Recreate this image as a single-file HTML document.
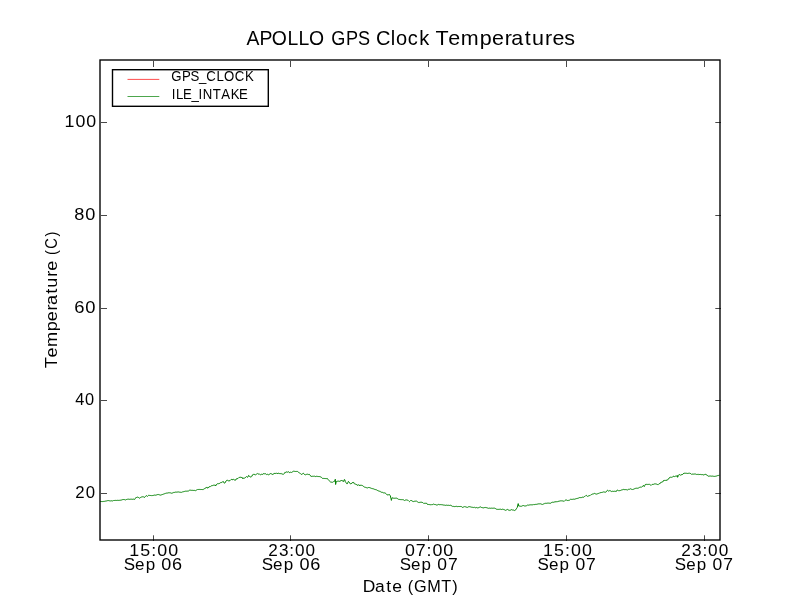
<!DOCTYPE html>
<html><head><meta charset="utf-8"><title>APOLLO GPS Clock Temperatures</title>
<style>
html,body{margin:0;padding:0;background:#fff;}
body{width:800px;height:600px;overflow:hidden;font-family:"Liberation Sans",sans-serif;}
svg{display:block;will-change:transform;}
text{font-family:"Liberation Sans",sans-serif;fill:#000;}
</style></head>
<body>
<svg width="800" height="600" viewBox="0 0 800 600">
<rect x="0" y="0" width="800" height="600" fill="#fff"/>
<path d="M100.00 501.50 L100.60 501.48 L100.80 501.50 L101.20 501.56 L101.80 501.53 L102.40 501.55 L103.00 501.60 L103.60 501.41 L104.20 501.34 L104.80 501.33 L105.40 501.15 L106.00 501.00 L106.60 500.93 L107.20 500.72 L107.80 500.58 L108.00 500.50 L108.40 500.58 L109.00 500.53 L109.60 500.82 L110.20 500.89 L110.50 500.90 L110.80 500.96 L111.40 500.81 L112.00 500.84 L112.40 501.00 L112.60 500.85 L113.20 500.63 L113.60 500.50 L113.80 500.52 L114.40 500.47 L115.00 500.49 L115.60 500.38 L116.20 500.44 L116.80 500.42 L117.40 500.32 L118.00 500.49 L118.60 500.38 L119.20 500.41 L119.80 500.24 L120.40 500.21 L121.00 500.25 L121.60 499.97 L122.20 499.73 L122.80 499.54 L123.00 499.40 L123.40 499.50 L124.00 499.56 L124.60 499.64 L125.20 499.80 L125.50 499.90 L125.80 499.90 L126.40 499.53 L127.00 499.41 L127.40 499.25 L127.60 499.28 L128.20 499.13 L128.80 499.25 L129.40 499.35 L130.00 499.09 L130.60 499.22 L131.20 499.24 L131.80 499.18 L132.40 499.29 L133.00 499.25 L133.60 499.13 L134.20 499.32 L134.80 499.30 L134.90 499.25 L135.40 498.41 L135.80 497.60 L136.00 497.67 L136.60 497.45 L137.20 497.29 L137.80 497.04 L138.00 497.10 L138.40 497.42 L139.00 497.74 L139.60 498.20 L140.20 497.78 L140.80 497.34 L141.10 497.25 L141.40 497.05 L142.00 496.85 L142.60 496.76 L143.00 496.50 L143.20 496.51 L143.80 497.09 L144.25 497.60 L144.40 497.47 L145.00 496.95 L145.60 496.26 L146.10 495.70 L146.20 495.60 L146.80 495.85 L147.40 496.38 L147.50 496.40 L148.00 495.86 L148.60 495.25 L148.75 495.20 L149.20 495.35 L149.80 495.46 L150.40 495.48 L151.00 495.58 L151.25 495.60 L151.60 495.59 L152.20 495.61 L152.80 495.46 L153.40 495.38 L154.00 495.31 L154.60 495.07 L155.20 495.23 L155.80 495.13 L156.25 495.00 L156.40 495.00 L157.00 494.64 L157.60 494.58 L158.10 494.50 L158.20 494.59 L158.80 494.52 L159.40 494.80 L160.00 495.04 L160.60 495.10 L161.20 494.79 L161.80 494.82 L162.40 494.53 L163.00 494.27 L163.10 494.25 L163.60 494.09 L164.20 493.88 L164.80 493.61 L165.40 493.47 L165.60 493.30 L166.00 493.18 L166.60 493.11 L167.20 493.13 L167.80 492.95 L168.40 492.79 L169.00 492.84 L169.40 492.70 L169.60 492.87 L170.20 492.86 L170.80 492.93 L171.40 493.17 L171.90 493.30 L172.00 493.24 L172.60 492.94 L173.20 492.78 L173.75 492.40 L173.80 492.31 L174.40 492.43 L175.00 492.15 L175.60 492.12 L176.20 492.17 L176.80 492.14 L177.40 492.05 L178.00 491.94 L178.10 491.90 L178.60 491.99 L179.20 492.09 L179.80 492.22 L180.40 492.25 L181.00 492.38 L181.25 492.40 L181.60 492.31 L182.20 492.02 L182.50 491.90 L182.80 491.88 L183.40 491.71 L184.00 491.67 L184.60 491.38 L185.00 491.25 L185.20 491.21 L185.80 491.18 L186.40 491.18 L187.00 491.23 L187.60 491.10 L188.10 491.10 L188.20 491.07 L188.80 490.82 L189.40 490.30 L190.00 490.09 L190.60 490.21 L191.20 490.32 L191.80 490.33 L192.00 490.30 L192.40 490.34 L193.00 490.32 L193.60 490.44 L194.20 490.44 L194.80 490.41 L195.40 490.68 L195.75 490.50 L196.00 490.39 L196.60 490.00 L197.20 489.71 L197.60 489.50 L197.80 489.48 L198.40 489.49 L199.00 489.28 L199.60 489.46 L200.20 489.58 L200.80 489.41 L201.40 489.49 L202.00 489.58 L202.60 489.57 L203.20 489.62 L203.25 489.50 L203.80 489.00 L204.40 488.71 L205.00 488.31 L205.60 488.09 L206.20 487.81 L206.40 487.40 L206.80 486.96 L207.40 488.26 L207.60 488.10 L208.00 487.47 L208.60 487.59 L209.20 486.64 L209.80 486.65 L210.10 486.40 L210.40 486.56 L211.00 485.94 L211.60 485.74 L212.00 485.50 L212.20 485.66 L212.80 485.38 L213.40 485.20 L214.00 485.48 L214.50 485.00 L214.60 485.28 L215.20 485.07 L215.80 485.95 L216.00 485.30 L216.40 484.54 L217.00 484.34 L217.30 483.75 L217.60 483.64 L218.20 483.64 L218.80 483.69 L219.40 483.47 L219.50 483.40 L220.00 483.35 L220.60 482.56 L221.20 482.31 L221.40 482.60 L221.80 482.54 L222.40 481.82 L223.00 481.48 L223.25 481.60 L223.60 481.69 L224.20 483.17 L224.50 483.25 L224.80 483.03 L225.40 482.41 L226.00 481.00 L226.60 480.43 L226.70 480.30 L227.20 480.07 L227.80 480.61 L228.40 480.88 L229.00 480.32 L229.50 480.60 L229.60 480.93 L230.20 480.44 L230.80 479.80 L231.40 479.50 L232.00 479.01 L232.60 479.85 L233.20 479.48 L233.80 479.35 L233.90 479.50 L234.40 479.93 L235.00 480.34 L235.10 480.30 L235.60 480.17 L236.20 478.94 L236.80 478.88 L237.00 478.40 L237.40 478.62 L238.00 478.38 L238.60 477.75 L239.20 477.38 L239.80 477.59 L239.90 477.30 L240.40 477.27 L241.00 477.21 L241.60 477.47 L241.75 477.10 L242.20 477.74 L242.70 478.60 L242.80 477.99 L243.40 478.28 L244.00 477.72 L244.60 478.20 L244.90 477.90 L245.20 477.74 L245.80 477.02 L246.40 476.68 L246.75 476.40 L247.00 476.84 L247.60 477.22 L247.70 477.30 L248.20 476.58 L248.60 475.40 L248.80 475.55 L249.40 476.34 L249.90 476.50 L250.00 476.89 L250.60 477.00 L251.20 476.51 L251.40 476.70 L251.80 476.44 L252.40 475.02 L253.00 474.49 L253.30 474.40 L253.60 473.96 L254.20 474.83 L254.80 474.36 L255.40 474.78 L255.50 474.80 L256.00 474.44 L256.60 474.10 L257.20 473.58 L257.40 473.60 L257.80 473.69 L258.40 474.13 L259.00 473.74 L259.25 473.75 L259.60 474.18 L260.20 474.80 L260.50 474.80 L260.80 474.69 L261.40 474.30 L262.00 474.35 L262.40 474.40 L262.60 474.59 L263.20 473.67 L263.80 473.69 L264.40 473.85 L264.90 473.40 L265.00 473.66 L265.60 473.82 L266.20 474.37 L266.75 474.50 L266.80 474.55 L267.40 474.31 L268.00 474.31 L268.60 474.80 L269.20 474.26 L269.80 474.27 L270.40 473.52 L270.50 473.60 L271.00 473.60 L271.60 473.91 L272.20 473.99 L272.70 474.60 L272.80 474.52 L273.40 473.92 L274.00 473.98 L274.60 472.97 L274.90 473.40 L275.20 473.50 L275.80 473.30 L276.40 473.01 L277.00 473.72 L277.60 473.51 L278.00 473.60 L278.20 473.03 L278.80 473.33 L279.40 473.58 L280.00 473.36 L280.60 473.63 L281.10 473.40 L281.20 473.63 L281.80 473.88 L282.40 474.07 L283.00 474.60 L283.30 474.40 L283.60 474.28 L284.20 473.65 L284.80 472.45 L285.40 472.62 L285.50 472.30 L286.00 472.48 L286.60 471.91 L286.90 471.90 L287.20 471.81 L287.80 472.46 L288.40 471.58 L289.00 472.19 L289.60 472.72 L290.20 472.07 L290.80 472.28 L291.40 472.45 L291.90 472.30 L292.00 472.20 L292.60 471.74 L293.10 471.25 L293.20 471.35 L293.80 471.20 L294.40 471.31 L295.00 471.39 L295.60 471.47 L296.20 471.42 L296.80 471.44 L297.40 471.39 L297.50 471.50 L298.00 471.83 L298.60 472.40 L299.20 472.76 L299.40 472.90 L299.80 473.09 L300.40 473.50 L301.00 474.26 L301.60 474.40 L302.20 474.05 L302.80 473.54 L303.10 473.25 L303.40 473.24 L304.00 474.05 L304.60 474.52 L305.00 474.80 L305.20 474.90 L305.80 474.59 L306.25 474.40 L306.40 474.39 L307.00 474.45 L307.60 474.21 L308.20 474.50 L308.80 474.43 L309.40 474.40 L310.00 475.01 L310.60 475.89 L311.20 476.62 L311.25 476.50 L311.80 476.29 L312.40 476.28 L313.00 476.29 L313.10 476.25 L313.60 476.29 L314.20 476.25 L314.80 476.21 L315.40 476.55 L316.00 476.46 L316.60 476.26 L317.20 476.26 L317.80 476.59 L318.40 476.54 L319.00 476.65 L319.60 476.57 L320.00 476.50 L320.20 476.56 L320.80 477.13 L321.40 477.35 L322.00 477.95 L322.50 478.40 L322.60 478.40 L323.20 478.48 L323.80 478.38 L324.40 478.46 L325.00 478.55 L325.60 478.56 L326.20 478.61 L326.80 478.59 L327.40 478.56 L327.50 478.60 L328.00 479.40 L328.60 480.19 L328.75 480.40 L329.20 480.71 L329.80 481.25 L330.40 481.83 L330.60 482.00 L331.00 482.03 L331.60 482.20 L332.20 482.25 L332.50 482.30 L332.80 482.21 L333.40 481.83 L334.00 481.21 L334.40 481.40 L334.60 481.04 L335.20 479.76 L335.30 479.20 L335.60 484.50 L335.80 483.71 L336.25 481.50 L336.40 481.44 L337.00 481.61 L337.60 481.17 L338.20 480.87 L338.80 481.44 L339.40 481.40 L340.00 480.86 L340.60 481.10 L341.20 480.30 L341.25 480.60 L341.80 479.99 L342.40 480.66 L343.00 481.63 L343.60 481.24 L343.75 481.40 L344.20 479.79 L344.50 479.40 L344.80 479.92 L345.30 481.40 L345.40 481.71 L346.00 482.64 L346.60 483.48 L346.90 483.90 L347.20 483.85 L347.80 482.61 L348.40 481.40 L349.00 482.09 L349.60 482.97 L350.00 483.25 L350.20 483.80 L350.80 483.77 L351.25 483.60 L351.40 483.80 L352.00 482.72 L352.60 482.55 L353.20 482.37 L353.40 482.00 L353.80 482.74 L354.00 483.25 L354.40 483.81 L355.00 484.02 L355.60 484.20 L356.20 484.61 L356.80 484.42 L357.40 485.39 L358.00 485.14 L358.60 484.85 L359.20 485.08 L359.40 485.10 L359.80 485.90 L360.40 485.13 L361.00 485.28 L361.60 485.33 L361.90 485.25 L362.20 485.46 L362.80 485.76 L363.40 486.32 L364.00 486.76 L364.40 487.00 L364.60 487.17 L365.20 487.31 L365.80 487.41 L366.40 487.67 L367.00 487.81 L367.50 487.90 L367.60 487.88 L368.20 487.63 L368.80 487.36 L369.00 487.30 L369.40 487.56 L370.00 487.68 L370.60 488.02 L371.20 488.38 L371.25 488.40 L371.80 488.39 L372.40 488.63 L373.00 488.62 L373.60 488.90 L373.75 489.00 L374.20 489.21 L374.80 489.42 L375.40 489.57 L376.00 489.76 L376.60 489.85 L376.90 490.10 L377.20 490.42 L377.80 490.56 L378.40 490.89 L379.00 490.96 L379.60 491.30 L380.00 491.50 L380.20 491.41 L380.80 491.94 L381.40 492.22 L382.00 492.40 L382.60 492.37 L383.20 492.71 L383.80 492.94 L384.40 492.86 L385.00 493.02 L385.60 493.25 L385.75 493.40 L386.20 493.91 L386.80 494.60 L387.00 495.00 L387.40 494.92 L388.00 494.82 L388.60 494.74 L389.20 494.63 L389.50 494.50 L389.80 495.12 L390.40 495.90 L391.00 498.72 L391.40 500.40 L391.60 499.40 L392.00 497.80 L392.20 497.82 L392.80 497.98 L393.25 498.25 L393.40 498.14 L394.00 498.24 L394.60 498.25 L395.20 498.30 L395.80 498.09 L396.40 498.13 L397.00 498.25 L397.60 498.68 L398.20 499.09 L398.60 499.40 L398.80 499.38 L399.40 499.45 L400.00 499.43 L400.60 499.62 L401.20 499.63 L401.80 499.63 L402.40 499.62 L402.60 499.70 L403.00 499.85 L403.60 499.85 L404.20 500.28 L404.50 500.50 L404.80 500.41 L405.40 500.07 L406.00 500.05 L406.40 499.90 L406.60 499.98 L407.20 500.02 L407.80 500.33 L408.25 500.50 L408.40 500.60 L409.00 501.21 L409.50 501.60 L409.60 501.57 L410.20 500.99 L410.80 500.39 L411.00 500.30 L411.40 500.52 L412.00 500.87 L412.60 501.30 L413.20 501.60 L413.25 501.60 L413.80 501.44 L414.40 501.28 L415.00 501.28 L415.60 501.15 L416.20 501.02 L416.40 501.10 L416.80 501.37 L417.40 501.75 L418.00 502.23 L418.25 502.40 L418.60 502.43 L419.20 502.31 L419.80 502.55 L420.40 502.25 L421.00 502.36 L421.60 502.23 L422.00 502.20 L422.20 502.46 L422.80 502.56 L423.40 503.17 L423.60 503.40 L424.00 503.37 L424.60 503.32 L425.20 503.41 L425.80 503.13 L426.40 503.14 L426.50 503.00 L427.00 503.85 L427.40 504.40 L427.60 504.51 L428.20 504.51 L428.80 504.49 L429.40 504.60 L430.00 504.48 L430.60 504.75 L431.20 504.58 L431.50 504.70 L431.80 504.63 L432.40 504.63 L433.00 504.20 L433.40 504.10 L433.60 504.16 L434.20 504.43 L434.80 504.48 L435.40 504.56 L436.00 504.83 L436.60 505.02 L437.10 505.10 L437.20 505.12 L437.80 504.65 L438.40 504.40 L439.00 504.63 L439.60 504.68 L440.20 504.58 L440.80 504.66 L441.40 504.65 L441.50 504.70 L442.00 504.92 L442.60 504.81 L443.20 505.04 L443.80 505.02 L444.40 505.10 L444.60 505.20 L445.00 505.28 L445.60 505.35 L446.20 505.22 L446.80 505.17 L447.40 505.33 L448.00 505.25 L448.60 505.29 L449.20 505.43 L449.80 505.40 L450.40 505.24 L450.90 505.30 L451.00 505.60 L451.60 505.81 L452.20 506.33 L452.40 506.40 L452.80 506.34 L453.40 506.42 L454.00 506.26 L454.60 506.63 L455.20 506.60 L455.80 506.35 L456.40 506.34 L457.00 506.34 L457.60 506.63 L458.20 506.48 L458.80 506.53 L459.40 506.52 L460.00 506.55 L460.60 506.47 L461.20 506.60 L461.50 506.60 L461.80 506.72 L462.40 507.40 L463.00 507.17 L463.60 506.99 L464.20 506.79 L464.60 506.60 L464.80 506.64 L465.40 506.77 L466.00 507.06 L466.60 507.19 L467.10 507.40 L467.20 507.51 L467.80 507.18 L468.40 506.84 L469.00 506.60 L469.60 506.70 L470.20 506.82 L470.80 506.94 L471.40 507.14 L471.50 507.20 L472.00 507.26 L472.60 507.32 L473.20 507.36 L473.80 507.55 L474.40 507.31 L474.75 507.40 L475.00 507.44 L475.60 507.81 L476.20 507.44 L476.80 507.67 L477.40 507.84 L477.90 507.90 L478.00 507.88 L478.60 507.66 L479.20 507.36 L479.80 507.18 L480.40 506.90 L481.00 507.17 L481.60 507.51 L482.20 507.50 L482.80 507.87 L482.90 508.00 L483.40 507.90 L484.00 507.68 L484.60 507.57 L485.20 507.62 L485.80 507.37 L486.00 507.40 L486.40 507.61 L487.00 507.83 L487.60 508.01 L488.20 508.24 L488.50 508.30 L488.80 508.28 L489.40 508.13 L490.00 508.25 L490.60 508.28 L491.20 508.16 L491.80 508.18 L492.40 508.25 L493.00 508.07 L493.60 508.20 L494.20 508.30 L494.75 508.10 L494.80 508.08 L495.40 508.52 L496.00 508.86 L496.60 509.25 L497.20 509.42 L497.80 509.31 L498.40 509.38 L499.00 509.23 L499.60 509.31 L500.20 509.32 L500.80 509.16 L501.40 509.49 L502.00 509.45 L502.60 509.20 L503.20 509.46 L503.80 509.38 L504.10 509.40 L504.40 509.68 L505.00 510.13 L505.40 510.40 L505.60 510.14 L506.20 509.95 L506.80 509.79 L507.25 509.40 L507.40 509.43 L508.00 509.74 L508.60 510.07 L509.10 510.50 L509.20 510.34 L509.80 510.28 L510.40 510.20 L511.00 509.86 L511.60 509.60 L512.20 509.80 L512.80 510.17 L513.40 510.06 L514.00 510.22 L514.60 510.51 L514.75 510.50 L515.20 510.23 L515.80 509.64 L516.00 509.60 L516.40 508.78 L517.00 507.87 L517.25 507.40 L517.60 506.02 L518.20 503.60 L518.80 506.10 L519.40 506.05 L520.00 506.24 L520.60 506.28 L521.10 506.40 L521.20 506.40 L521.80 506.06 L522.40 505.78 L523.00 505.50 L523.60 505.58 L524.20 505.84 L524.80 505.99 L525.40 505.93 L526.00 506.17 L526.10 506.10 L526.60 505.64 L527.20 505.26 L527.40 505.10 L527.80 505.15 L528.40 505.19 L529.00 504.96 L529.60 504.95 L530.20 504.94 L530.80 504.73 L531.40 504.84 L532.00 504.74 L532.60 504.80 L533.20 504.61 L533.60 504.70 L533.80 504.47 L534.40 504.59 L535.00 504.53 L535.60 504.37 L536.20 504.43 L536.80 504.23 L537.40 504.12 L538.00 504.14 L538.60 503.85 L539.20 503.86 L539.80 503.84 L540.40 503.85 L540.50 503.75 L541.00 503.93 L541.60 504.22 L542.20 504.36 L542.40 504.50 L542.80 504.29 L543.40 504.07 L544.00 503.48 L544.25 503.40 L544.60 503.62 L545.20 503.29 L545.80 503.33 L546.40 503.31 L547.00 503.37 L547.60 503.12 L548.20 503.00 L548.80 503.24 L549.40 503.23 L550.00 503.19 L550.50 503.10 L550.60 503.31 L551.20 502.73 L551.80 502.39 L552.10 502.20 L552.40 502.28 L553.00 502.18 L553.60 502.28 L554.20 501.95 L554.80 502.00 L555.40 501.66 L555.50 502.00 L556.00 501.96 L556.60 501.70 L557.20 501.68 L557.80 501.66 L558.00 501.40 L558.40 501.33 L559.00 501.20 L559.60 501.07 L560.20 500.92 L560.80 500.84 L561.40 500.89 L561.75 500.75 L562.00 500.80 L562.60 500.93 L563.20 501.02 L563.80 501.27 L564.25 501.25 L564.40 501.16 L565.00 500.48 L565.50 500.00 L565.60 500.10 L566.20 500.09 L566.80 500.06 L567.40 500.47 L568.00 500.44 L568.60 500.36 L568.75 500.50 L569.20 500.36 L569.80 499.92 L570.40 499.33 L570.60 499.40 L571.00 499.57 L571.60 499.37 L572.20 499.40 L572.80 499.27 L573.40 499.19 L574.00 498.98 L574.60 499.24 L575.00 499.10 L575.20 499.02 L575.80 498.75 L576.25 498.60 L576.40 498.61 L577.00 498.44 L577.60 498.37 L578.20 498.11 L578.80 498.01 L579.40 497.62 L580.00 497.69 L580.60 497.60 L581.20 497.57 L581.80 497.53 L582.40 497.21 L583.00 497.13 L583.60 497.22 L583.75 497.00 L584.20 496.65 L584.80 496.37 L585.40 496.08 L586.00 495.47 L586.25 495.30 L586.60 495.76 L587.20 496.05 L587.50 496.40 L587.80 496.29 L588.40 495.98 L589.00 495.73 L589.60 495.58 L590.20 495.46 L590.80 494.82 L591.25 494.70 L591.40 494.57 L592.00 494.45 L592.60 494.02 L593.20 493.95 L593.80 493.72 L594.40 493.40 L595.00 493.57 L595.60 493.87 L596.20 493.83 L596.80 494.31 L596.90 494.25 L597.40 493.83 L598.00 493.65 L598.60 493.39 L599.20 493.13 L599.80 493.00 L600.00 492.80 L600.40 492.71 L601.00 492.51 L601.60 492.48 L602.20 492.46 L602.80 492.13 L603.40 492.03 L603.75 491.90 L604.00 492.09 L604.60 492.07 L605.20 491.98 L605.60 492.20 L605.80 492.30 L606.40 491.67 L607.00 490.56 L607.50 490.30 L607.60 490.36 L608.20 490.80 L608.75 491.10 L608.80 491.18 L609.40 490.77 L609.70 490.50 L610.00 490.64 L610.60 490.90 L611.20 491.38 L611.25 491.40 L611.80 491.52 L612.40 491.27 L613.00 491.28 L613.60 491.40 L614.20 491.17 L614.80 491.37 L615.40 491.35 L616.00 491.45 L616.40 491.40 L616.60 491.00 L617.20 490.05 L617.30 490.00 L617.80 490.23 L618.40 490.61 L618.90 490.90 L619.00 490.78 L619.60 490.65 L620.20 490.52 L620.80 490.36 L621.40 490.00 L622.00 490.11 L622.60 489.71 L623.20 489.66 L623.80 489.31 L624.40 489.74 L624.50 489.50 L625.00 489.48 L625.60 489.64 L626.20 489.78 L626.80 489.63 L627.40 489.93 L627.60 489.90 L628.00 489.74 L628.60 489.28 L629.20 489.30 L629.80 489.16 L630.10 488.90 L630.40 488.75 L631.00 489.21 L631.60 489.29 L632.20 489.46 L632.60 489.50 L632.80 489.46 L633.40 489.30 L634.00 488.86 L634.60 488.72 L635.10 488.40 L635.20 488.34 L635.80 488.45 L636.40 488.22 L637.00 488.27 L637.60 488.25 L638.20 488.19 L638.80 487.77 L639.40 487.43 L639.50 487.40 L640.00 487.21 L640.60 487.13 L641.20 487.26 L641.40 487.20 L641.80 487.04 L642.40 486.42 L643.00 485.92 L643.60 485.30 L644.20 486.60 L644.80 485.49 L645.40 484.40 L646.00 484.67 L646.60 484.32 L647.20 484.29 L647.80 484.58 L648.40 484.41 L649.00 484.34 L649.50 484.40 L649.60 484.34 L650.20 484.74 L650.80 485.26 L651.10 485.30 L651.40 485.19 L652.00 484.52 L652.60 484.40 L653.20 484.39 L653.80 484.25 L654.40 483.91 L655.00 484.17 L655.60 483.87 L655.75 483.90 L656.20 483.94 L656.80 484.31 L657.40 484.56 L658.00 484.30 L658.25 484.50 L658.60 484.32 L659.20 483.61 L659.80 483.79 L660.10 483.10 L660.40 482.82 L661.00 482.80 L661.60 482.07 L662.10 481.90 L662.20 482.00 L662.80 481.92 L663.40 480.61 L664.00 480.67 L664.60 480.40 L665.20 480.46 L665.80 480.31 L666.40 480.16 L667.00 480.69 L667.10 480.25 L667.60 479.75 L668.20 478.78 L668.40 478.90 L668.80 478.72 L669.40 477.69 L670.00 477.75 L670.25 477.30 L670.60 477.14 L671.20 477.21 L671.80 477.37 L672.40 477.07 L672.75 477.00 L673.00 476.60 L673.60 476.25 L674.00 476.40 L674.20 476.62 L674.80 476.50 L675.40 476.15 L676.00 476.45 L676.50 476.25 L676.60 476.23 L677.20 475.40 L677.60 477.30 L677.80 477.03 L678.40 475.25 L679.00 474.50 L679.60 474.66 L680.20 475.13 L680.60 475.10 L680.80 475.18 L681.40 475.02 L682.00 474.15 L682.60 474.48 L682.75 474.40 L683.20 473.95 L683.70 473.25 L683.80 473.76 L684.40 473.06 L685.00 473.18 L685.60 473.26 L686.20 473.43 L686.80 473.16 L687.40 473.48 L688.00 473.09 L688.60 473.30 L689.20 473.14 L689.60 473.25 L689.80 473.38 L690.40 473.51 L691.00 473.63 L691.50 474.20 L691.60 474.41 L692.20 474.22 L692.80 474.00 L693.40 474.12 L694.00 474.24 L694.60 474.00 L695.20 473.93 L695.80 474.23 L696.40 474.49 L696.50 474.40 L697.00 474.52 L697.60 474.36 L698.20 474.02 L698.80 474.70 L699.40 474.53 L700.00 474.48 L700.60 474.44 L700.90 474.50 L701.20 474.61 L701.80 474.59 L702.40 474.59 L703.00 474.76 L703.60 474.90 L704.00 475.10 L704.20 474.87 L704.80 474.42 L705.40 474.44 L705.60 474.20 L706.00 474.25 L706.60 475.12 L707.20 475.26 L707.75 475.90 L707.80 475.97 L708.40 476.23 L709.00 476.00 L709.60 476.09 L710.20 475.94 L710.80 476.14 L711.40 476.21 L712.00 475.88 L712.60 476.15 L713.20 476.34 L713.80 476.26 L714.40 476.40 L715.00 476.26 L715.60 476.24 L716.20 476.09 L716.80 475.96 L717.40 475.74 L717.50 475.60 L718.00 475.47 L718.60 475.43 L719.20 475.29 L719.50 475.30" fill="none" stroke="#008000" stroke-width="1.0" stroke-linejoin="round"/>
<rect x="100" y="60" width="620" height="480" fill="none" stroke="#000" stroke-width="1.37"/>
<path d="M153.5 541 V535.3 M153.5 61 V67 M290.5 541 V535.3 M290.5 61 V67 M428.5 541 V535.3 M428.5 61 V67 M566.5 541 V535.3 M566.5 61 V67 M704.5 541 V535.3 M704.5 61 V67 M101 122.5 H107 M721 122.5 H715.3 M101 215.5 H107 M721 215.5 H715.3 M101 308.5 H107 M721 308.5 H715.3 M101 400.5 H107 M721 400.5 H715.3 M101 493.5 H107 M721 493.5 H715.3" fill="none" stroke="#000" stroke-width="0.72"/>
<rect x="112.5" y="69.7" width="155.8" height="36.6" fill="#fff" stroke="#000" stroke-width="1.39"/>
<path d="M127.5 79.4 H159.3" stroke="#ff0000" stroke-width="0.7"/>
<path d="M127.5 96.5 H159.3" stroke="#008000" stroke-width="0.7"/>
<text transform="scale(0.9696,1)" x="254.16 267.57 280.20 296.49 307.79 318.75" y="44.8" font-size="20">APOLLO</text>
<text transform="scale(0.9048,1)" x="365.99 382.51 395.68" y="44.8" font-size="20">GPS</text>
<text transform="scale(1.0017,1)" x="375.31 390.00 395.40 407.12 418.60" y="44.8" font-size="20">Clock</text>
<text transform="scale(1.0749,1)" x="405.16 416.96 428.73 446.27 457.63 469.55 475.64 488.27 494.88 507.04 513.90 524.94" y="44.8" font-size="20">Temperatures</text>
<text transform="scale(1.0265,1)" x="125.91 136.67 147.38 153.17 163.91" y="556" font-size="17.4">15:00</text>
<text transform="scale(0.9843,1)" x="272.44 283.36 293.93 299.67 310.35" y="556" font-size="17.4">23:00</text>
<text transform="scale(1.0230,1)" x="395.99 406.50 417.02 422.66 433.20" y="556" font-size="17.4">07:00</text>
<text transform="scale(1.0265,1)" x="529.01 539.77 550.48 556.27 567.01" y="556" font-size="17.4">15:00</text>
<text transform="scale(0.9885,1)" x="689.11 700.03 710.60 716.34 727.02" y="556" font-size="17.4">23:00</text>
<text transform="scale(0.9773,1)" x="126.57 138.25 149.10" y="569.7" font-size="17.4">Sep</text>
<text transform="scale(1.0377,1)" x="155.49 165.82" y="569.7" font-size="17.4">06</text>
<text transform="scale(0.9790,1)" x="267.30 278.97 289.82" y="569.7" font-size="17.4">Sep</text>
<text transform="scale(1.0396,1)" x="288.02 298.35" y="569.7" font-size="17.4">06</text>
<text transform="scale(0.9744,1)" x="410.16 421.83 432.68" y="569.7" font-size="17.4">Sep</text>
<text transform="scale(1.0064,1)" x="434.57 445.15" y="569.7" font-size="17.4">07</text>
<text transform="scale(0.9761,1)" x="550.79 562.47 573.32" y="569.7" font-size="17.4">Sep</text>
<text transform="scale(1.0082,1)" x="570.74 581.33" y="569.7" font-size="17.4">07</text>
<text transform="scale(0.9744,1)" x="692.59 704.26 715.11" y="569.7" font-size="17.4">Sep</text>
<text transform="scale(1.0064,1)" x="708.03 718.61" y="569.7" font-size="17.4">07</text>
<text transform="scale(1.0209,1)" x="63.20 73.94 84.59" y="127" font-size="17.4">100</text>
<text transform="scale(1.0433,1)" x="71.25 81.69" y="219.7" font-size="17.4">80</text>
<text transform="scale(1.0575,1)" x="70.21 80.53" y="312.8" font-size="17.4">60</text>
<text transform="scale(0.9397,1)" x="80.01 90.51" y="404.7" font-size="17.4">40</text>
<text transform="scale(0.9641,1)" x="77.98 88.90" y="497.7" font-size="17.4">20</text>
<text transform="scale(1.0027,1)" x="361.71 373.96 385.28 391.28" y="591.75" font-size="17.4">Date</text>
<text transform="scale(0.9353,1)" x="435.87 442.76 456.85 471.86 483.60" y="591.75" font-size="17.4">(GMT)</text>
<text transform="translate(56.9,0) rotate(-90) scale(1.0422,1)" x="-353.29 -343.14 -333.04 -317.92 -308.14 -297.88 -292.66 -281.76 -276.10 -265.62 -259.74" y="0" font-size="17.4">Temperature</text>
<text transform="translate(56.9,0) rotate(-90) scale(0.8393,1)" x="-303.85 -296.26 -281.72" y="0" font-size="17.4">(C)</text>
<text transform="scale(0.9444,1)" x="181.45 192.71 201.67 210.79 218.39 229.25 237.30 248.60 259.46" y="80.8" font-size="14">GPS_CLOCK</text>
<text transform="scale(0.9443,1)" x="181.76 186.28 193.71 202.69 210.33 214.73 225.30 234.23 244.24 253.12" y="98.9" font-size="14">ILE_INTAKE</text>
</svg>
</body></html>
